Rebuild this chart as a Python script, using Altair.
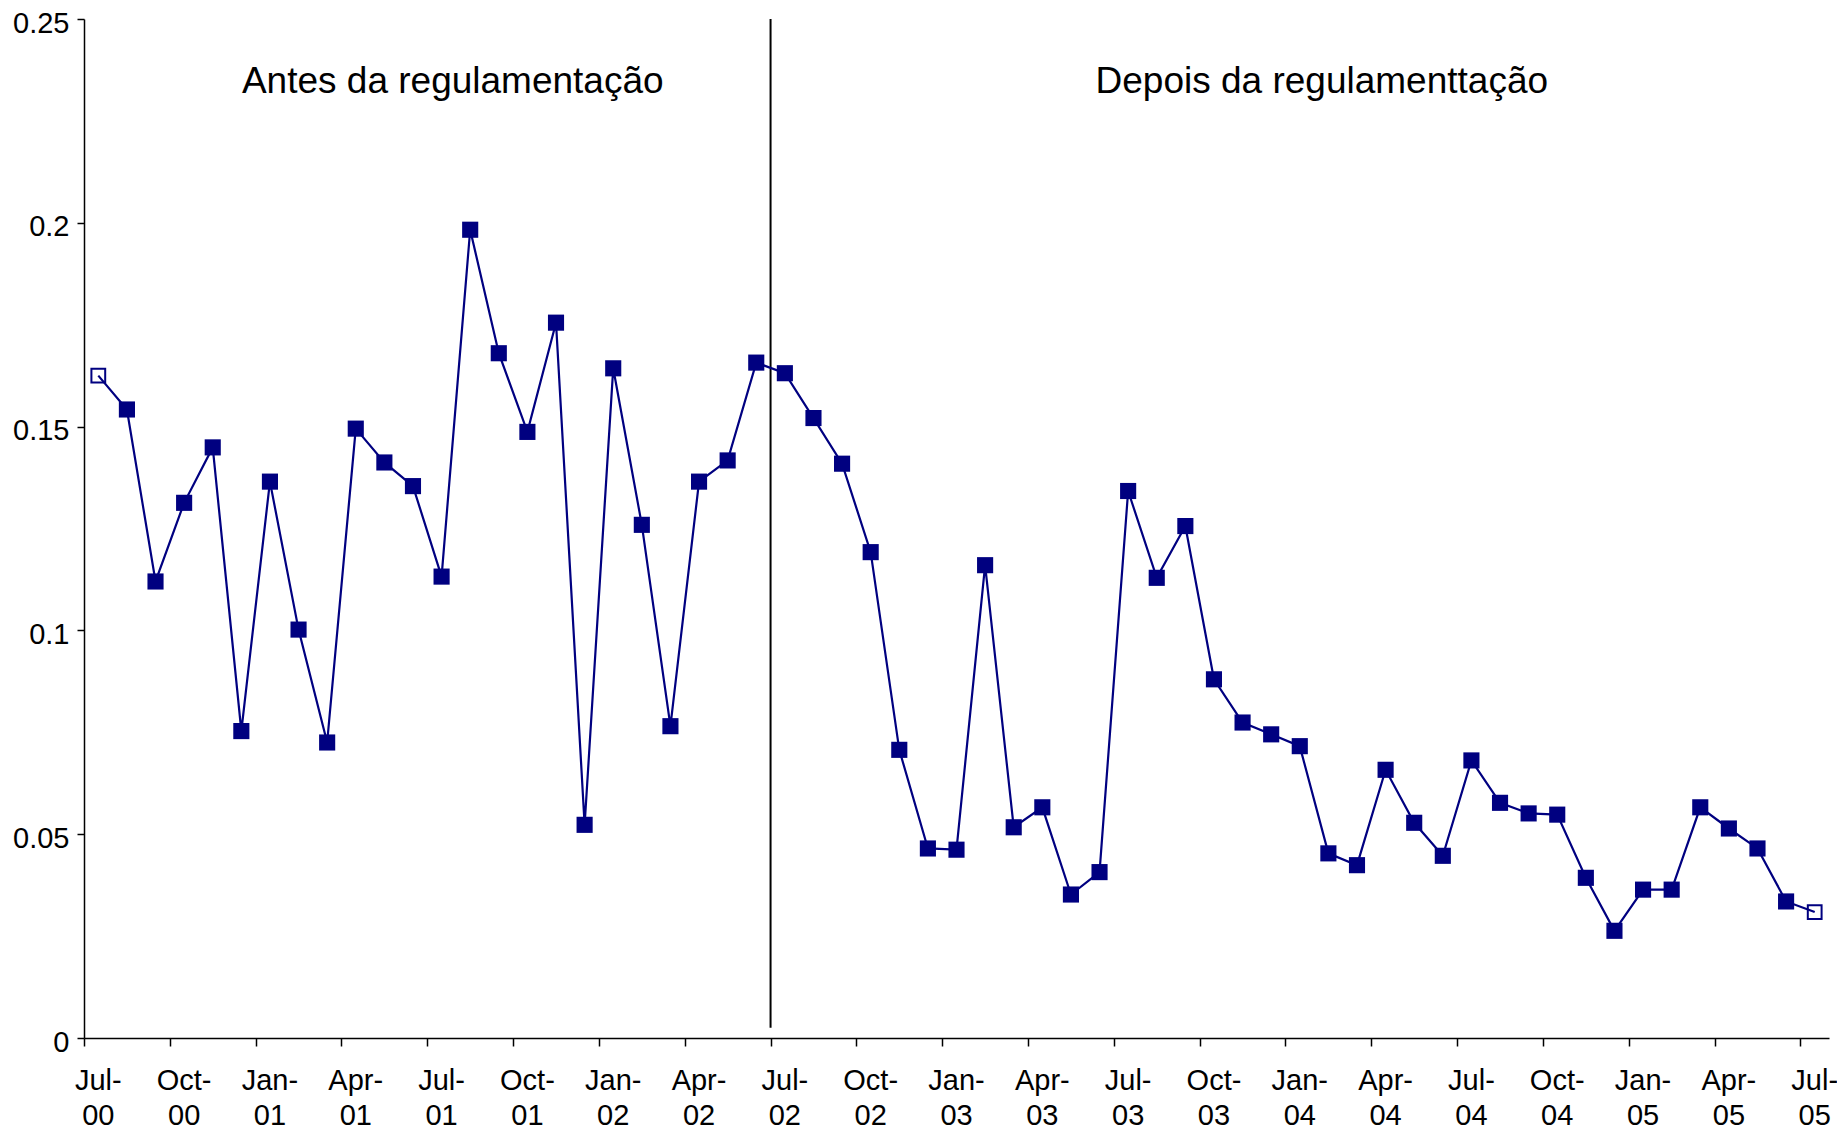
import altair as alt
import pandas as pd

# ---- data ----
month_names = ["Jan", "Feb", "Mar", "Apr", "May", "Jun", "Jul", "Aug", "Sep", "Oct", "Nov", "Dec"]
months = [f"{month_names[(6 + i) % 12]}-{(6 + i) // 12:02d}" for i in range(61)]  # Jul-00 .. Jul-05

values = [0.1625, 0.1542, 0.1120, 0.1313, 0.1449, 0.0753, 0.1365, 0.1002, 0.0725, 0.1495,
          0.1412, 0.1354, 0.1132, 0.1983, 0.1680, 0.1487, 0.1755, 0.0523, 0.1643, 0.1259,
          0.0765, 0.1365, 0.1417, 0.1657, 0.1631, 0.1521, 0.1409, 0.1192, 0.0707, 0.0465,
          0.0462, 0.1160, 0.0517, 0.0566, 0.0352, 0.0407, 0.1342, 0.1129, 0.1256, 0.0880,
          0.0774, 0.0745, 0.0716, 0.0453, 0.0424, 0.0658, 0.0528, 0.0447, 0.0681, 0.0577,
          0.0551, 0.0548, 0.0393, 0.0263, 0.0364, 0.0364, 0.0566, 0.0514, 0.0465, 0.0335,
          0.0309]

tick_labels = ["Jul-00", "Oct-00", "Jan-01", "Apr-01", "Jul-01", "Oct-01", "Jan-02", "Apr-02",
               "Jul-02", "Oct-02", "Jan-03", "Apr-03", "Jul-03", "Oct-03", "Jan-04", "Apr-04",
               "Jul-04", "Oct-04", "Jan-05", "Apr-05", "Jul-05"]
y_ticks = [0, 0.05, 0.1, 0.15, 0.2, 0.25]
y_tick_labels = ["0", "0.05", "0.1", "0.15", "0.2", "0.25"]

annotations = ["Antes da regulamentação", "Depois da regulamenttação"]
annotation_x = [12.39, 42.77]
annotation_y = [0.2319, 0.2319]

break_x = [23.5]
break_top = [0.25]
break_bottom = [0.0025]

# ---- frames ----
n = len(values)
df = pd.DataFrame({
    "idx": list(range(n)),
    "month": months,
    "value": values,
    "hollow": [i == 0 or i == n - 1 for i in range(n)],
})
ann_df = pd.DataFrame({"idx": annotation_x, "value": annotation_y, "label": annotations})
rule_df = pd.DataFrame({"idx": break_x, "value": break_top, "value2": break_bottom})
xlab_df = pd.DataFrame({
    "idx": [months.index(t) for t in tick_labels],
    "value": [0.0] * len(tick_labels),
    "label": [t.replace("-", "-\n") for t in tick_labels],
})

NAVY = "#000080"
FONT = "Liberation Sans"

tick_values = [-0.5 + 3 * k for k in range(len(tick_labels))]
ylab_arr = "[" + ",".join("'" + s + "'" for s in y_tick_labels) + "]"

x_enc = alt.X(
    "idx:Q",
    scale=alt.Scale(domain=[-0.5, n - 0.5], nice=False, zero=False),
    axis=alt.Axis(
        values=tick_values, labels=False,
        title=None, grid=False, tickSize=8,
    ),
)
y_enc = alt.Y(
    "value:Q",
    scale=alt.Scale(domain=[0, 0.25], nice=False),
    axis=alt.Axis(
        values=y_ticks,
        labelExpr=f"{ylab_arr}[round(datum.value / 0.05)]",
        title=None, grid=False, tickSize=7, labelPadding=8, labelFlush=False,
        labelOverlap=False, labelOffset=4,
    ),
)

base = alt.Chart(df)

line = base.mark_line(color=NAVY, strokeWidth=2.2).encode(x=x_enc, y=y_enc)

filled_pts = base.transform_filter("!datum.hollow").mark_point(
    shape="square", filled=True, color=NAVY, size=260, opacity=1
).encode(x=x_enc, y=y_enc)

hollow_pts = base.transform_filter("datum.hollow").mark_point(
    shape="square", filled=False, color=NAVY, size=190, strokeWidth=2, opacity=1
).encode(x=x_enc, y=y_enc)

rule = alt.Chart(rule_df).mark_rule(color="black", strokeWidth=2).encode(
    x=x_enc, y=y_enc, y2="value2:Q"
)

text = alt.Chart(ann_df).mark_text(
    font=FONT, fontSize=37, color="black", align="center", baseline="alphabetic"
).encode(x=x_enc, y=y_enc, text="label:N")

xlabels = alt.Chart(xlab_df).mark_text(
    font=FONT, fontSize=29, color="black", align="center", baseline="top",
    lineBreak="\n", lineHeight=35, dy=29,
).encode(x=x_enc, y=y_enc, text="label:N")

chart = alt.layer(rule, line, filled_pts, hollow_pts, text, xlabels).properties(
    width=1745, height=1019,
    autosize=alt.AutoSizeParams(type="none"),
    padding={"left": 76, "top": 11, "right": 8, "bottom": 92},
).configure_view(stroke=None, clip=False).configure_axis(
    domainColor="black", tickColor="black", labelColor="black",
    labelFont=FONT, labelFontSize=29, domainWidth=1.5, tickWidth=1.5,
)

chart.save("out.html", embed_options={"renderer": "svg", "actions": False})
